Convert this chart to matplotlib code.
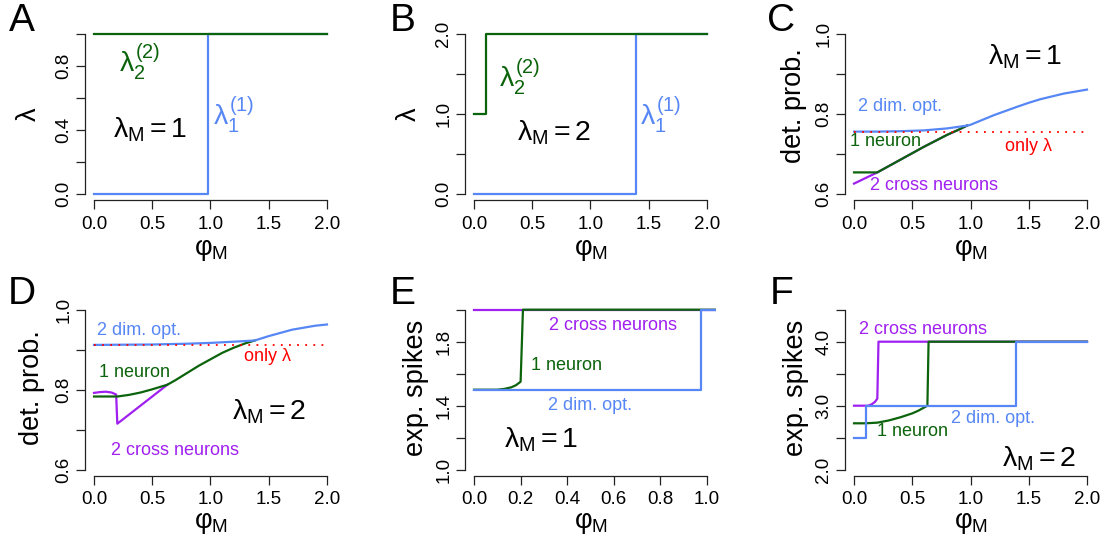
import matplotlib
matplotlib.use("Agg")
import matplotlib.pyplot as plt

plt.rcParams['font.family'] = ['Liberation Sans', 'DejaVu Sans']
plt.rcParams['mathtext.fontset'] = 'custom'
plt.rcParams['mathtext.rm'] = 'Liberation Sans'
plt.rcParams['mathtext.it'] = 'Liberation Sans'
plt.rcParams['mathtext.bf'] = 'Liberation Sans:bold'
plt.rcParams['mathtext.sf'] = 'Liberation Sans'

BLUE = '#5787F5'
GREEN = '#0B630B'
PURPLE = '#A020F0'
RED = '#FF0000'

# ---------------- data ----------------
# Panel A (lambda_M = 1)
a_l2_x = [0.0, 2.0]
a_l2_y = [1.0, 1.0]
a_l1_x = [0.0, 0.975, 0.975, 2.0]
a_l1_y = [0.0, 0.0, 1.0, 1.0]

# Panel B (lambda_M = 2)
b_l2_x = [0.0, 0.1, 0.1, 2.0]
b_l2_y = [1.0, 1.0, 2.0, 2.0]
b_l1_x = [0.0, 1.39, 1.39, 2.0]
b_l1_y = [0.0, 0.0, 2.0, 2.0]

# Panel C detection probability (lambda_M = 1)
c_opt_x = [0.0, 0.2, 0.4, 0.6, 0.8, 0.97, 1.0, 1.2, 1.4, 1.5, 1.6, 1.8, 2.0]
c_opt_y = [0.756, 0.756, 0.757, 0.759, 0.764, 0.771, 0.773, 0.797, 0.818, 0.828, 0.837, 0.851, 0.861]
c_one_x = [0.0, 0.2, 0.3, 0.4, 0.5, 0.6, 0.7, 0.8, 0.9, 0.97]
c_one_y = [0.654, 0.654, 0.670, 0.686, 0.702, 0.718, 0.733, 0.748, 0.761, 0.771]
c_cross_x = [0.0, 0.1, 0.2, 0.3, 0.4, 0.5, 0.6, 0.7, 0.8, 0.9, 0.97]
c_cross_y = [0.626, 0.640, 0.654, 0.670, 0.686, 0.702, 0.718, 0.733, 0.748, 0.761, 0.771]
c_only_x = [0.0, 2.0]
c_only_y = [0.756, 0.756]

# Panel D detection probability (lambda_M = 2)
d_opt_x = [0.0, 0.5, 0.8, 1.0, 1.2, 1.38, 1.5, 1.6, 1.7, 1.8, 1.9, 2.0]
d_opt_y = [0.912, 0.913, 0.915, 0.917, 0.920, 0.923, 0.934, 0.942, 0.950, 0.955, 0.960, 0.963]
d_one_x = [0.0, 0.2, 0.3, 0.4, 0.5, 0.63, 0.7, 0.8, 0.9, 1.0, 1.1, 1.2, 1.3, 1.38]
d_one_y = [0.783, 0.783, 0.787, 0.793, 0.801, 0.8125, 0.824, 0.842, 0.860, 0.876, 0.892, 0.905, 0.916, 0.923]
d_cross_x = [0.0, 0.05, 0.1, 0.15, 0.19, 0.2, 0.63]
d_cross_y = [0.792, 0.794, 0.795, 0.793, 0.788, 0.715, 0.8125]
d_only_x = [0.0, 2.0]
d_only_y = [0.912, 0.912]

# Panel E expected spikes (lambda_M = 1)
e_cross_x = [0.0, 1.04]
e_cross_y = [2.0, 2.0]
e_one_x = [0.0, 0.1, 0.13, 0.16, 0.18, 0.2, 0.21, 1.04]
e_one_y = [1.5, 1.5, 1.505, 1.515, 1.528, 1.55, 2.0, 2.0]
e_opt_x = [0.0, 0.975, 0.975, 1.04]
e_opt_y = [1.5, 1.5, 2.0, 2.0]

# Panel F expected spikes (lambda_M = 2)
f_cross_x = [0.0, 0.12, 0.15, 0.18, 0.2, 0.21, 2.0]
f_cross_y = [3.0, 3.0, 3.02, 3.06, 3.11, 4.0, 4.0]
f_one_x = [0.0, 0.1, 0.2, 0.3, 0.4, 0.5, 0.55, 0.6, 0.63, 0.64, 2.0]
f_one_y = [2.725, 2.725, 2.735, 2.77, 2.82, 2.88, 2.92, 2.97, 3.0, 4.0, 4.0]
f_opt_x = [0.0, 0.1, 0.1, 1.39, 1.39, 2.0]
f_opt_y = [2.5, 2.5, 3.0, 3.0, 4.0, 4.0]

# ticks
ticks_phi2 = [0.0, 0.5, 1.0, 1.5, 2.0]
ticks_phi2_lab = ['0.0', '0.5', '1.0', '1.5', '2.0']
ticks_phi1 = [0.0, 0.2, 0.4, 0.6, 0.8, 1.0]
ticks_phi1_lab = ['0.0', '0.2', '0.4', '0.6', '0.8', '1.0']
ticks_a = [0.0, 0.2, 0.4, 0.6, 0.8, 1.0]
ticks_a_lab = ['0.0', '', '0.4', '', '0.8', '']
ticks_b = [0.0, 0.5, 1.0, 1.5, 2.0]
ticks_b_lab = ['0.0', '', '1.0', '', '2.0']
ticks_cd = [0.6, 0.7, 0.8, 0.9, 1.0]
ticks_cd_lab = ['0.6', '', '0.8', '', '1.0']
ticks_e = [1.0, 1.2, 1.4, 1.6, 1.8, 2.0]
ticks_e_lab = ['1.0', '', '1.4', '', '1.8', '']
ticks_f = [2.0, 2.5, 3.0, 3.5, 4.0, 4.5]
ticks_f_lab = ['2.0', '', '3.0', '', '4.0', '']

# ---------------- figure ----------------
W, H = 1109, 545
fig = plt.figure(figsize=(W / 100, H / 100), dpi=100)

TICK_FS = 13.5
LAB_FS = 19.5
LAM_FS = 20.5
ANN_FS = 13
LW = 1.6


def px_axes(left, top, width, height):
    return fig.add_axes([left / W, 1 - (top + height) / H, width / W, height / H])


def style(ax, xlim, ylim, xt, xtl, yt, ytl):
    xr = xlim[1] - xlim[0]
    yr = ylim[1] - ylim[0]
    ax.set_xlim(xlim[0] - 0.04 * xr, xlim[1] + 0.04 * xr)
    ax.set_ylim(ylim[0] - 0.04 * yr, ylim[1] + 0.04 * yr)
    for s in ['top', 'right']:
        ax.spines[s].set_visible(False)
    for s in ['left', 'bottom']:
        ax.spines[s].set_linewidth(0.9)
        ax.spines[s].set_color('#222222')
    ax.spines['left'].set_bounds(yt[0], yt[-1])
    ax.spines['bottom'].set_bounds(xt[0], xt[-1])
    ax.set_xticks(xt)
    ax.set_xticklabels(xtl)
    ax.set_yticks(yt)
    ax.set_yticklabels(ytl)
    ax.tick_params(direction='out', length=6.8, width=0.9, color='#222222',
                   labelsize=TICK_FS)
    ax.tick_params(axis='x', pad=4.2)
    ax.tick_params(axis='y', pad=2)
    for lab in ax.get_yticklabels():
        lab.set_rotation(90)
        lab.set_va('center')
    ax.patch.set_alpha(0)


AW, AH = 251.6, 172.8
cols = [84.7, 464.7, 844.7]
rows = [27.6, 303.3]

axA = px_axes(cols[0], rows[0], AW, AH)
axB = px_axes(cols[1], rows[0], AW, AH)
axC = px_axes(cols[2], rows[0], AW, AH)
axD = px_axes(cols[0], rows[1], AW, AH)
axE = px_axes(cols[1], rows[1], AW, AH)
axF = px_axes(cols[2], rows[1], AW, AH)

# A
style(axA, (0, 2), (0, 1), ticks_phi2, ticks_phi2_lab, ticks_a, ticks_a_lab)
axA.plot(a_l1_x, a_l1_y, color=BLUE, lw=LW)
axA.plot(a_l2_x, a_l2_y, color=GREEN, lw=LW)
axA.text(0.395, 0.82, r'$\lambda_2^{(2)}$', color=GREEN, fontsize=LAM_FS, ha='center', va='center')
axA.text(1.2, 0.49, r'$\lambda_1^{(1)}$', color=BLUE, fontsize=LAM_FS, ha='center', va='center')
axA.text(0.48, 0.40, r'$\lambda_M = 1$', color='black', fontsize=LAM_FS, ha='center', va='center')

# B
style(axB, (0, 2), (0, 2), ticks_phi2, ticks_phi2_lab, ticks_b, ticks_b_lab)
axB.plot(b_l1_x, b_l1_y, color=BLUE, lw=LW)
axB.plot(b_l2_x, b_l2_y, color=GREEN, lw=LW)
axB.text(0.395, 1.46, r'$\lambda_2^{(2)}$', color=GREEN, fontsize=LAM_FS, ha='center', va='center')
axB.text(1.6, 0.98, r'$\lambda_1^{(1)}$', color=BLUE, fontsize=LAM_FS, ha='center', va='center')
axB.text(0.69, 0.76, r'$\lambda_M = 2$', color='black', fontsize=LAM_FS, ha='center', va='center')

# C
style(axC, (0, 2), (0.6, 1.0), ticks_phi2, ticks_phi2_lab, ticks_cd, ticks_cd_lab)
axC.plot(c_cross_x, c_cross_y, color=PURPLE, lw=LW)
axC.plot(c_one_x, c_one_y, color=GREEN, lw=LW)
axC.plot(c_opt_x, c_opt_y, color=BLUE, lw=LW)
axC.plot(c_only_x, c_only_y, color=RED, lw=1.3, ls=(0, (1, 3.5)))
axC.text(1.47, 0.943, r'$\lambda_M = 1$', color='black', fontsize=LAM_FS, ha='center', va='center')
axC.text(0.395, 0.818, '2 dim. opt.', color=BLUE, fontsize=ANN_FS, ha='center', va='center')
axC.text(0.27, 0.731, '1 neuron', color=GREEN, fontsize=ANN_FS, ha='center', va='center')
axC.text(1.5, 0.718, r'only $\lambda$', color=RED, fontsize=ANN_FS, ha='center', va='center')
axC.text(0.69, 0.620, '2 cross neurons', color=PURPLE, fontsize=ANN_FS, ha='center', va='center')

# D
style(axD, (0, 2), (0.6, 1.0), ticks_phi2, ticks_phi2_lab, ticks_cd, ticks_cd_lab)
axD.plot(d_cross_x, d_cross_y, color=PURPLE, lw=LW)
axD.plot(d_one_x, d_one_y, color=GREEN, lw=LW)
axD.plot(d_opt_x, d_opt_y, color=BLUE, lw=LW)
axD.plot(d_only_x, d_only_y, color=RED, lw=1.3, ls=(0, (1, 3.5)))
axD.text(0.39, 0.948, '2 dim. opt.', color=BLUE, fontsize=ANN_FS, ha='center', va='center')
axD.text(1.49, 0.882, r'only $\lambda$', color=RED, fontsize=ANN_FS, ha='center', va='center')
axD.text(0.35, 0.842, '1 neuron', color=GREEN, fontsize=ANN_FS, ha='center', va='center')
axD.text(1.5, 0.744, r'$\lambda_M = 2$', color='black', fontsize=LAM_FS, ha='center', va='center')
axD.text(0.695, 0.648, '2 cross neurons', color=PURPLE, fontsize=ANN_FS, ha='center', va='center')

# E
style(axE, (0, 1), (1.0, 2.0), ticks_phi1, ticks_phi1_lab, ticks_e, ticks_e_lab)
axE.plot(e_cross_x, e_cross_y, color=PURPLE, lw=LW)
axE.plot(e_one_x, e_one_y, color=GREEN, lw=LW)
axE.plot(e_opt_x, e_opt_y, color=BLUE, lw=LW)
axE.text(0.596, 1.90, '2 cross neurons', color=PURPLE, fontsize=ANN_FS, ha='center', va='center')
axE.text(0.397, 1.65, '1 neuron', color=GREEN, fontsize=ANN_FS, ha='center', va='center')
axE.text(0.498, 1.40, '2 dim. opt.', color=BLUE, fontsize=ANN_FS, ha='center', va='center')
axE.text(0.288, 1.19, r'$\lambda_M = 1$', color='black', fontsize=LAM_FS, ha='center', va='center')

# F
style(axF, (0, 2), (2.0, 4.5), ticks_phi2, ticks_phi2_lab, ticks_f, ticks_f_lab)
axF.plot(f_cross_x, f_cross_y, color=PURPLE, lw=LW)
axF.plot(f_one_x, f_one_y, color=GREEN, lw=LW)
axF.plot(f_opt_x, f_opt_y, color=BLUE, lw=LW)
axF.text(0.59, 4.19, '2 cross neurons', color=PURPLE, fontsize=ANN_FS, ha='center', va='center')
axF.text(1.19, 2.80, '2 dim. opt.', color=BLUE, fontsize=ANN_FS, ha='center', va='center')
axF.text(0.50, 2.59, '1 neuron', color=GREEN, fontsize=ANN_FS, ha='center', va='center')
axF.text(1.59, 2.17, r'$\lambda_M = 2$', color='black', fontsize=LAM_FS, ha='center', va='center')


def ftext(x, y, s, **kw):
    fig.text(x / W, 1 - y / H, s, ha='center', va='center', **kw)


# panel letters
for (x, y, s) in [(22, 21, 'A'), (403, 21, 'B'), (781, 21, 'C'),
                  (22, 294, 'D'), (403, 294, 'E'), (782, 294, 'F')]:
    ftext(x, y, s, fontsize=28)

# x labels
for cx in [210.5, 590.5, 970.5]:
    ftext(cx, 250, r'$\varphi_M$', fontsize=LAB_FS)
    ftext(cx, 523, r'$\varphi_M$', fontsize=LAB_FS)

# y labels
ftext(29, 114, r'$\lambda$', fontsize=LAB_FS, rotation=90)
ftext(409, 114, r'$\lambda$', fontsize=LAB_FS, rotation=90)
ftext(794, 106, 'det. prob.', fontsize=LAB_FS, rotation=90)
ftext(32, 388, 'det. prob.', fontsize=LAB_FS, rotation=90)
ftext(416, 388, 'exp. spikes', fontsize=LAB_FS, rotation=90)
ftext(796, 388, 'exp. spikes', fontsize=LAB_FS, rotation=90)

fig.savefig('out.png', dpi=100)
